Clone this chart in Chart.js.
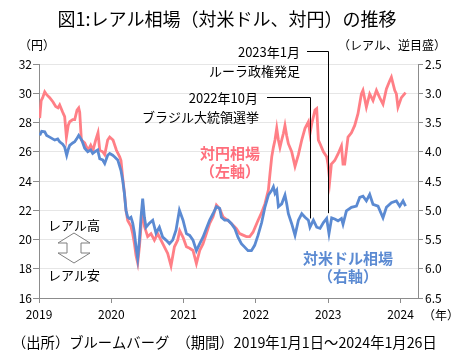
<!DOCTYPE html>
<html><head><meta charset="utf-8">
<script src="https://cdn.jsdelivr.net/npm/chart.js@4"></script>
<style>html,body{margin:0;padding:0;background:#fff}canvas{display:block}</style>
</head><body>
<canvas id="c" width="454" height="355"></canvas>
<script>
// Time in decimal years (2019.0 = 2019-01-01)
const jpyTimes = [0.010,0.030,0.051,0.079,0.106,0.148,0.194,0.231,0.263,0.286,0.328,0.355,0.379,0.404,0.425,0.466,0.494,0.526,0.549,0.563,0.586,0.632,0.678,0.715,0.747,0.784,0.816,0.840,0.881,0.909,0.950,0.978,1.024,1.071,1.116,1.134,1.158,1.181,1.203,1.227,1.272,1.296,1.320,1.342,1.365,1.389,1.411,1.434,1.458,1.503,1.549,1.596,1.642,1.687,1.734,1.780,1.826,1.873,1.918,1.946,1.992,2.039,2.084,2.130,2.177,2.223,2.268,2.315,2.361,2.407,2.454,2.499,2.545,2.614,2.661,2.730,2.776,2.822,2.869,2.914,2.960,3.029,3.076,3.126,3.173,3.195,3.219,3.242,3.264,3.288,3.311,3.333,3.357,3.380,3.402,3.426,3.449,3.495,3.541,3.588,3.634,3.679,3.726,3.748,3.772,3.817,3.841,3.864,3.887,3.934,3.979,3.997,4.021,4.044,4.090,4.136,4.183,4.205,4.228,4.274,4.321,4.367,4.412,4.459,4.481,4.528,4.574,4.620,4.667,4.712,4.758,4.805,4.851,4.874,4.920,4.943,4.965,5.012,5.070];
// BRL/JPY (left axis, yen)
const jpyValues = [28.3,29.5,29.7,30.1,29.9,29.7,29.4,29.1,29.0,29.2,28.7,28.4,27.0,27.8,28.05,28.2,28.2,28.85,29.0,28.7,26.8,26.6,26.1,26.45,26.1,26.8,27.3,26.1,26.0,25.8,26.8,27.0,26.8,26.1,25.65,25.4,24.2,23.2,22.0,21.3,20.9,20.4,19.7,18.9,18.4,19.5,20.9,22.35,20.9,20.2,20.4,19.95,20.4,19.95,19.5,19.05,18.2,19.5,19.95,20.6,20.15,19.5,19.4,19.25,18.35,19.25,19.7,20.4,21.1,21.55,22.35,22.1,21.55,21.3,21.1,20.75,20.4,20.3,20.2,20.2,20.5,21.3,21.8,22.45,23.4,24.5,25.65,26.3,26.8,27.6,26.8,26.3,26.8,27.25,27.8,27.1,26.55,26.0,25.0,25.8,26.8,27.6,28.05,27.25,27.9,28.85,28.95,26.8,26.55,26.0,25.65,25.15,24.0,25.15,25.4,25.85,26.4,25.15,25.15,27.0,27.3,27.8,28.6,29.95,30.2,29.05,29.95,29.5,30.2,29.7,29.25,30.3,30.85,31.1,30.2,29.95,29.05,29.7,30.05];
const usdTimes = [0.010,0.037,0.079,0.106,0.148,0.189,0.217,0.259,0.286,0.328,0.355,0.383,0.404,0.425,0.466,0.494,0.521,0.549,0.591,0.632,0.674,0.715,0.743,0.784,0.812,0.840,0.881,0.909,0.950,0.978,1.019,1.047,1.089,1.134,1.158,1.181,1.203,1.227,1.250,1.272,1.296,1.320,1.342,1.365,1.389,1.411,1.434,1.458,1.480,1.527,1.573,1.618,1.665,1.711,1.757,1.804,1.849,1.895,1.942,1.992,2.039,2.084,2.130,2.177,2.223,2.268,2.315,2.361,2.407,2.454,2.499,2.523,2.568,2.614,2.661,2.707,2.752,2.799,2.845,2.891,2.938,2.983,3.029,3.080,3.126,3.173,3.219,3.242,3.264,3.288,3.311,3.357,3.402,3.426,3.449,3.495,3.541,3.588,3.634,3.679,3.726,3.748,3.795,3.841,3.887,3.934,3.979,4.011,4.048,4.090,4.136,4.183,4.205,4.252,4.321,4.390,4.436,4.481,4.528,4.574,4.620,4.689,4.758,4.805,4.874,4.943,4.989,5.035,5.070];
// USD/BRL (right axis, reversed)
const usdValues = [3.72,3.65,3.66,3.72,3.75,3.78,3.80,3.78,3.83,3.87,3.92,4.06,3.96,3.89,3.85,3.83,3.78,3.72,3.80,3.94,4.00,3.97,4.03,3.99,3.97,4.12,4.14,4.20,4.06,4.03,4.06,4.09,4.14,4.32,4.49,4.71,5.00,5.12,5.14,5.12,5.22,5.39,5.63,5.82,5.51,5.12,4.80,5.12,5.29,5.22,5.17,5.39,5.29,5.46,5.51,5.57,5.51,5.34,5.00,5.17,5.40,5.43,5.51,5.69,5.57,5.46,5.31,5.17,5.06,4.94,4.97,5.12,5.17,5.17,5.23,5.31,5.46,5.57,5.63,5.69,5.69,5.60,5.43,5.21,4.94,4.74,4.66,4.60,4.71,4.66,4.94,4.89,4.74,4.89,5.06,5.23,5.43,5.17,5.06,5.12,5.17,5.29,5.17,5.29,5.31,5.21,5.14,5.40,5.13,5.15,5.18,5.14,5.24,5.01,4.95,4.93,4.78,4.76,4.84,4.73,4.90,4.93,5.13,4.95,4.87,4.84,4.93,4.84,4.93];
const xTickYears = [2019,2020,2021,2022,2023,2024];
const leftTicks = [16,18,20,22,24,26,28,30,32];
const rightTicks = [2.5,3.0,3.5,4.0,4.5,5.0,5.5,6.0,6.5];

const FONT = '"Noto Sans CJK JP", "Noto Sans", sans-serif';
const RED = '#FF7F86';
const BLUE = '#5B8AD2';
const toPts = (ts, vs) => ts.map((t, i) => ({x: 2019 + t, y: vs[i]}));

const annot = {
  id: 'annot',
  afterDraw(chart) {
    const c = chart.ctx;
    const xs = chart.scales.x, yr = chart.scales.y2;
    c.save();
    const txt = (s, x, y, size, color, align, weight) => {
      c.font = (weight || 'normal') + ' ' + size + 'px ' + FONT;
      c.fillStyle = color; c.textAlign = align; c.textBaseline = 'middle';
      c.fillText(s, x, y);
    };
    txt('図1:レアル相場（対米ドル、対円）の推移', 227, 19, 18, '#000', 'center');
    txt('（円）', 37, 45, 12, '#000', 'center');
    txt('（レアル、逆目盛）', 446, 45, 12, '#000', 'right');
    txt('（年）', 423, 315, 12, '#000', 'left');
    txt('2023年1月', 300, 52, 13, '#000', 'right');
    txt('ルーラ政権発足', 300, 71, 13, '#000', 'right');
    txt('2022年10月', 258, 98, 13, '#000', 'right');
    txt('ブラジル大統領選挙', 259, 117, 13, '#000', 'right');
    txt('対円相場', 230, 153, 15, '#FF6E7C', 'center', 'bold');
    txt('（左軸）', 230, 171, 15, '#FF6E7C', 'center', 'bold');
    txt('対米ドル相場', 348, 258, 15, '#5B8AD2', 'center', 'bold');
    txt('（右軸）', 348, 276, 15, '#5B8AD2', 'center', 'bold');
    txt('レアル高', 74, 225, 13, '#000', 'center');
    txt('レアル安', 74, 275, 13, '#000', 'center');
    txt('（出所）ブルームバーグ　（期間）2019年1月1日～2024年1月26日', 12, 343, 14.3, '#000', 'left');
    // connector lines
    c.strokeStyle = '#000'; c.lineWidth = 1;
    const x1 = Math.round(xs.getPixelForValue(2023.0)) + 0.5;
    const y1 = yr.getPixelForValue(5.05);
    c.beginPath(); c.moveTo(307, 51.5); c.lineTo(x1, 51.5); c.lineTo(x1, y1); c.stroke();
    const x2 = Math.round(xs.getPixelForValue(2022.751)) + 0.5;
    const y2 = yr.getPixelForValue(5.14);
    c.beginPath(); c.moveTo(267, 97.5); c.lineTo(x2, 97.5); c.lineTo(x2, y2); c.stroke();
    // hollow double arrow
    c.beginPath();
    c.moveTo(74, 233); c.lineTo(90, 243); c.lineTo(81, 243); c.lineTo(81, 253); c.lineTo(90, 253);
    c.lineTo(74, 263); c.lineTo(58, 253); c.lineTo(67, 253); c.lineTo(67, 243); c.lineTo(58, 243); c.closePath();
    c.fillStyle = '#fff'; c.fill();
    c.strokeStyle = '#7f7f7f'; c.stroke();
    c.restore();
  }
};

new Chart(document.getElementById('c'), {
  type: 'line',
  data: {
    datasets: [
      {label: '対米ドル相場', data: toPts(usdTimes, usdValues), yAxisID: 'y2', borderColor: BLUE, borderWidth: 2.8, pointRadius: 0, tension: 0},
      {label: '対円相場', data: toPts(jpyTimes, jpyValues), yAxisID: 'y', borderColor: RED, borderWidth: 2.8, pointRadius: 0, tension: 0}
    ]
  },
  options: {
    responsive: false, animation: false, devicePixelRatio: 1,
    layout: {padding: {top: 64, left: 0, right: 0, bottom: 0}},
    plugins: {legend: {display: false}, tooltip: {enabled: false}},
    scales: {
      x: {
        type: 'linear', min: 2019, max: 2024.242,
        afterBuildTicks: s => { s.ticks = xTickYears.map(v => ({value: v})); },
        afterFit: s => { s.height = 57; },
        ticks: {callback: v => String(v), font: {family: FONT, size: 12}, color: '#000', padding: 4, maxRotation: 0},
        grid: {drawOnChartArea: false, tickLength: 5, tickColor: '#8c8c8c'},
        border: {color: '#8c8c8c'}
      },
      y: {
        position: 'left', min: 16, max: 32,
        afterBuildTicks: s => { s.ticks = leftTicks.map(v => ({value: v})); },
        afterFit: s => { s.width = 39; },
        ticks: {font: {family: FONT, size: 12}, color: '#000', padding: 1},
        grid: {color: '#e6e6e6', tickColor: '#8c8c8c', tickLength: 6},
        border: {color: '#8c8c8c'}
      },
      y2: {
        position: 'right', min: 2.5, max: 6.5, reverse: true,
        afterBuildTicks: s => { s.ticks = rightTicks.map(v => ({value: v})); },
        afterFit: s => { s.width = 36; },
        ticks: {callback: v => v.toFixed(1), font: {family: FONT, size: 12}, color: '#000', padding: 2},
        grid: {drawOnChartArea: false, tickColor: '#8c8c8c', tickLength: 5},
        border: {color: '#8c8c8c'}
      }
    }
  },
  plugins: [annot]
});
</script>
</body></html>
